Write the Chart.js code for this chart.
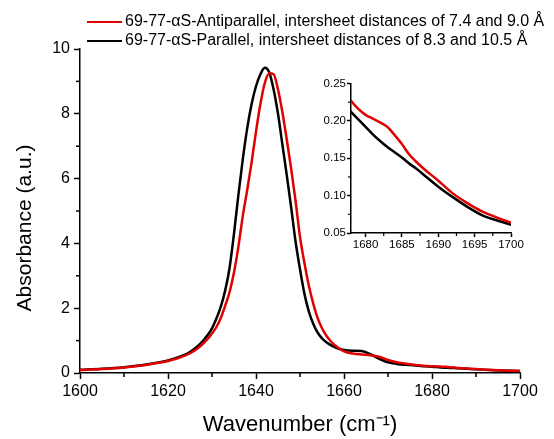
<!DOCTYPE html>
<html><head><meta charset="utf-8">
<script src="https://cdn.jsdelivr.net/npm/chart.js@4.4.0/dist/chart.umd.min.js"></script>
<style>
html,body{margin:0;padding:0;background:#fff;}
#wrap{position:relative;width:554px;height:439px;overflow:hidden;}
#main{position:absolute;left:0;top:0;}
#inset{position:absolute;left:290px;top:60px;}
</style></head><body>
<div id="wrap"><canvas id="main" width="554" height="439"></canvas><canvas id="inset" width="264" height="200"></canvas></div>
<script>
const wavenumber = [1600,1605,1610,1615,1620,1623,1625,1627,1628,1629,1630,1631,1632,1633,1634,1635,1636,1637,1638,1639,1640,1641,1642,1643,1644,1645,1646,1647,1648,1649,1650,1651,1652,1653,1654,1655,1656,1657,1658,1659,1660,1662,1664,1666,1668,1670,1672,1675,1678,1679,1680,1681,1682,1683,1684,1685,1686,1687,1688,1690,1692,1694,1696,1698,1700];
const antiparallel = [0.09,0.12,0.17,0.25,0.37,0.49,0.61,0.79,0.91,1.05,1.22,1.42,1.70,2.08,2.50,3.10,3.90,4.85,5.65,6.50,7.45,8.30,8.95,9.25,9.22,8.75,8.05,7.20,6.30,5.30,4.20,3.40,2.70,2.15,1.70,1.38,1.15,0.98,0.85,0.75,0.67,0.60,0.57,0.55,0.50,0.40,0.33,0.27,0.227,0.216,0.208,0.203,0.198,0.192,0.181,0.169,0.155,0.145,0.136,0.120,0.103,0.090,0.079,0.071,0.064];
const parallel = [0.10,0.13,0.18,0.26,0.39,0.52,0.65,0.86,1.00,1.17,1.38,1.68,2.05,2.55,3.25,4.30,5.50,6.60,7.55,8.30,8.85,9.22,9.42,9.28,8.75,8.00,7.05,6.10,5.10,4.05,3.20,2.45,1.90,1.52,1.25,1.07,0.95,0.86,0.79,0.74,0.71,0.69,0.68,0.58,0.44,0.33,0.28,0.245,0.212,0.202,0.192,0.182,0.173,0.165,0.158,0.151,0.143,0.136,0.128,0.112,0.098,0.085,0.074,0.067,0.061];
const seriesLabels = ['69-77-\u03b1S-Antiparallel, intersheet distances of 7.4 and 9.0 \u00c5','69-77-\u03b1S-Parallel, intersheet distances of 8.3 and 10.5 \u00c5'];
const seriesColors = ['#e00000','#000000'];
const mainXTicks = [1600,1620,1640,1660,1680,1700];
const mainXMinor = [1610,1630,1650,1670,1690];
const mainYTicks = [0,2,4,6,8,10];
const mainYMinor = [1,3,5,7,9];
const insetXTicks = [1680,1685,1690,1695,1700];
const insetXMinor = [1682.5,1687.5,1692.5,1697.5];
const insetYTicks = [0.05,0.10,0.15,0.20,0.25];
const insetYMinor = [0.075,0.125,0.175,0.225];

const FONT = 'Liberation Sans, Arial, Helvetica, sans-serif';
const pts = arr => wavenumber.map((x,i)=>({x, y: arr[i]}));

function datasets(){
  return [
    {label: seriesLabels[0], data: pts(antiparallel), borderColor: seriesColors[0], borderWidth: 2.5, pointRadius: 0, cubicInterpolationMode: 'monotone'},
    {label: seriesLabels[1], data: pts(parallel), borderColor: seriesColors[1], borderWidth: 2.5, pointRadius: 0, cubicInterpolationMode: 'monotone'}
  ];
}

const minorTicks = {
  id: 'minorTicks',
  afterDraw(chart, args, o){
    const ctx = chart.ctx, a = chart.chartArea, xs = chart.scales.x, ys = chart.scales.y;
    ctx.save(); ctx.strokeStyle = '#000'; ctx.lineWidth = o.width;
    o.x.forEach(v=>{const p = xs.getPixelForValue(v); ctx.beginPath(); ctx.moveTo(p, a.bottom); ctx.lineTo(p, a.bottom + o.len); ctx.stroke();});
    o.y.forEach(v=>{const p = ys.getPixelForValue(v); ctx.beginPath(); ctx.moveTo(a.left, p); ctx.lineTo(a.left - o.len, p); ctx.stroke();});
    ctx.restore();
  }
};

const legendAndTitle = {
  id: 'legendAndTitle',
  afterDraw(chart){
    const ctx = chart.ctx;
    ctx.save();
    const rows = [22, 41];
    chart.data.datasets.forEach((ds, i)=>{
      ctx.strokeStyle = ds.borderColor; ctx.lineWidth = 2;
      ctx.beginPath(); ctx.moveTo(87, rows[i]); ctx.lineTo(122, rows[i]); ctx.stroke();
      ctx.fillStyle = '#000'; ctx.font = '16px ' + FONT; ctx.textBaseline = 'middle'; ctx.textAlign = 'left';
      ctx.fillText(ds.label, 125, rows[i]);
    });
    ctx.translate(25, 228); ctx.rotate(-Math.PI/2);
    ctx.font = '21px ' + FONT; ctx.textAlign = 'center'; ctx.textBaseline = 'middle'; ctx.fillStyle = '#000';
    ctx.fillText('Absorbance (a.u.)', 0, 0);
    ctx.restore();
  }
};

function axis(min, max, ticks, fmt, fontSize, tickLen, pad, fitKey, fitVal, title){
  return {
    type: 'linear', min, max,
    afterBuildTicks: s => { s.ticks = ticks.map(v=>({value:v})); },
    afterFit: s => { s[fitKey] = fitVal; },
    ticks: {callback: fmt, font: {family: FONT, size: fontSize}, color: '#000', padding: pad, maxRotation: 0, autoSkip: false},
    grid: {display: true, drawOnChartArea: false, drawTicks: true, tickLength: tickLen, tickWidth: 1.5, color: '#000'},
    border: {display: true, color: '#000', width: 1.5},
    title: title || {display: false}
  };
}

new Chart(document.getElementById('main'), {
  type: 'line',
  data: {datasets: datasets()},
  options: {
    responsive: false, animation: false, devicePixelRatio: 1,
    layout: {padding: {left: 0, right: 34, top: 49, bottom: 0}},
    plugins: {legend: {display: false}, tooltip: {enabled: false},
      minorTicks: {x: mainXMinor, y: mainYMinor, len: 4, width: 1.5}},
    scales: {
      x: axis(1600, 1700, mainXTicks, v => String(v), 16, 6, 3, 'height', 66,
        {display: true, text: 'Wavenumber (cm\u207b\u00b9)', color: '#000', font: {family: FONT, size: 22}, padding: {top: 2, bottom: 1}}),
      y: axis(0, 10, mainYTicks, v => String(v), 16, 6, 4, 'width', 80)
    }
  },
  plugins: [minorTicks, legendAndTitle]
});

new Chart(document.getElementById('inset'), {
  type: 'line',
  data: {datasets: datasets()},
  options: {
    responsive: false, animation: false, devicePixelRatio: 1,
    layout: {padding: {left: 0, right: 43, top: 23.5, bottom: 0}},
    plugins: {legend: {display: false}, tooltip: {enabled: false},
      minorTicks: {x: insetXMinor, y: insetYMinor, len: 3, width: 1.2}},
    scales: {
      x: axis(1678, 1700, insetXTicks, v => String(v), 11.5, 4, 1, 'height', 27),
      y: axis(0.05, 0.25, insetYTicks, v => Number(v).toFixed(2), 11.5, 4, 1, 'width', 61)
    }
  },
  plugins: [minorTicks]
});
</script>
</body></html>
